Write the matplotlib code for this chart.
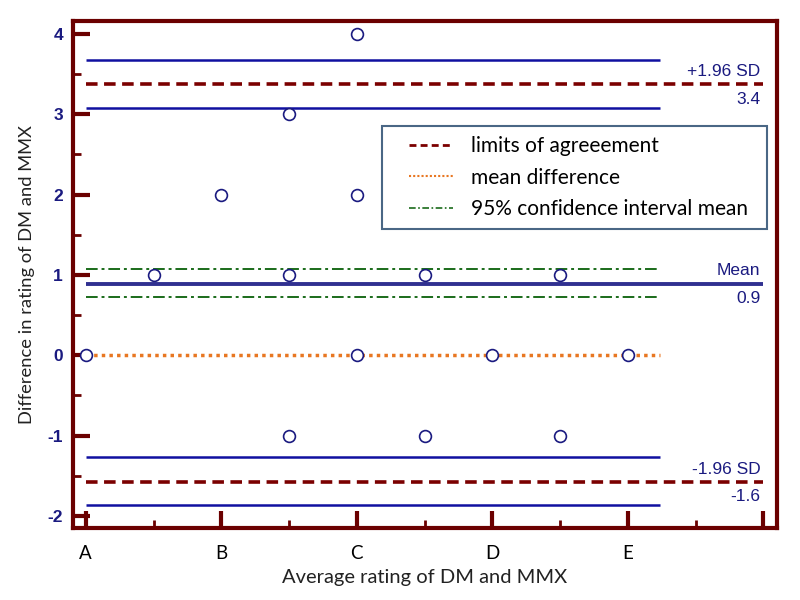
import numpy as np
import matplotlib
matplotlib.use('Agg')
import matplotlib.pyplot as plt
from matplotlib.lines import Line2D
from matplotlib.legend_handler import HandlerLine2D
from matplotlib.ticker import MultipleLocator

# Bland-Altman data
avg_rating = [1, 1.5, 2, 2.5, 2.5, 2.5, 3, 3, 3, 3.5, 3.5, 4, 4.5, 4.5, 5]
diff_rating = [0, 1, 2, 3, 1, -1, 4, 2, 0, 1, -1, 0, 1, -1, 0]
x_tick_pos = [1, 2, 3, 4, 5]
x_tick_labels = ['A', 'B', 'C', 'D', 'E']

mean_diff = 0.89
mean_ci = [0.72, 1.07]
upper_loa = 3.37
upper_ci = [3.08, 3.675]
lower_loa = -1.58
lower_ci = [-1.865, -1.27]

maroon = '#6B0000'
navy = '#1A1A80'
blue = '#1010A0'


class ShiftedLine(HandlerLine2D):
    # legend sample drawn a bit right of the frame edge
    def create_artists(self, legend, orig_handle, xdescent, ydescent,
                       width, height, fontsize, trans):
        off = 0.8 * fontsize
        return super().create_artists(legend, orig_handle, xdescent - off,
                                      ydescent, width - off, height,
                                      fontsize, trans)


fig = plt.figure(figsize=(8, 6), dpi=100)
ax = fig.add_axes([0.091, 0.12, 0.88, 0.845])

# confidence bands of the limits (solid blue)
for v in upper_ci + lower_ci:
    ax.hlines(v, 1, 5.24, color=blue, lw=1.8)
# mean difference line
ax.hlines(mean_diff, 1, 6.0, color='#303090', lw=2.8)
# CI of mean
for v in mean_ci:
    ax.hlines(v, 1, 5.24, color='#1A6B1A', lw=1.4, linestyles=(0, (6, 2, 1.5, 2)))
# zero line (dotted orange)
ax.hlines(0, 1, 5.24, color='#E87722', lw=2.5, linestyles=(0, (1, 1.2)))
# limits of agreement
for v in [upper_loa, lower_loa]:
    ax.hlines(v, 1, 6.0, color='#7B0000', lw=2.6, linestyles=(0, (3.2, 1.8)))

ax.plot(avg_rating, diff_rating, 'o', mfc='white', mec=navy, ms=8.5, mew=1.2, zorder=5)

# labels on the right side
tx = 5.98
lab = dict(ha='right', color=navy, fontsize=12.5, family='Liberation Sans')
for v, name in [(upper_loa, '+1.96 SD'), (mean_diff, 'Mean'), (lower_loa, '-1.96 SD')]:
    ax.text(tx, v + 0.07, name, va='bottom', **lab)
    ax.text(tx, v - 0.09, f'{v:.1f}', va='top', **lab)

ax.set_xlim(0.904, 6.10)
ax.set_ylim(-2.15, 4.16)

ax.xaxis.set_minor_locator(MultipleLocator(0.5))
ax.yaxis.set_minor_locator(MultipleLocator(0.5))
ax.set_xticks(x_tick_pos + [6])
ax.set_xticklabels(x_tick_labels + [''], family='Lato', fontsize=13.5)
ax.set_yticks(range(-2, 5))
ax.set_yticklabels([str(v) for v in range(-2, 5)], family='Liberation Sans',
                   fontweight='bold', fontsize=12.5, color=navy)

ax.tick_params(which='major', direction='in', length=12, width=3, color=maroon)
ax.tick_params(which='minor', direction='in', length=6, width=2, color=maroon)
ax.tick_params(axis='y', pad=7)
ax.tick_params(axis='x', pad=12)

for s in ax.spines.values():
    s.set_color(maroon)
    s.set_linewidth(3)

ax.set_xlabel('Average rating of DM and MMX', family='Lato', fontsize=14.5,
              color='#222222', labelpad=5)
ax.set_ylabel('Difference in rating of DM and MMX', family='Lato', fontsize=13.2,
              color='#222222', labelpad=9)

handles = [
    Line2D([], [], color='#7B0000', lw=2, ls=(0, (2.5, 1.5))),
    Line2D([], [], color='#E87722', lw=1.5, ls=(0, (1, 1))),
    Line2D([], [], color='#1A6B1A', lw=1.2, ls=(0, (4, 1.5, 1, 1.5))),
]
leg = ax.legend(handles, ['limits of agreeement', 'mean difference',
                          '95% confidence interval mean'],
                loc='upper left', bbox_to_anchor=(0.439, 0.593, 0.547, 0.2),
                mode='expand', handler_map={Line2D: ShiftedLine()},
                prop={'family': 'Lato', 'size': 15}, fancybox=False,
                framealpha=1, edgecolor='#4A6785', handlelength=2.9,
                handletextpad=0.9, borderpad=0.5, labelspacing=0.54,
                borderaxespad=0)
leg.get_frame().set_linewidth(1.5)

fig.savefig('out.png', dpi=100)
